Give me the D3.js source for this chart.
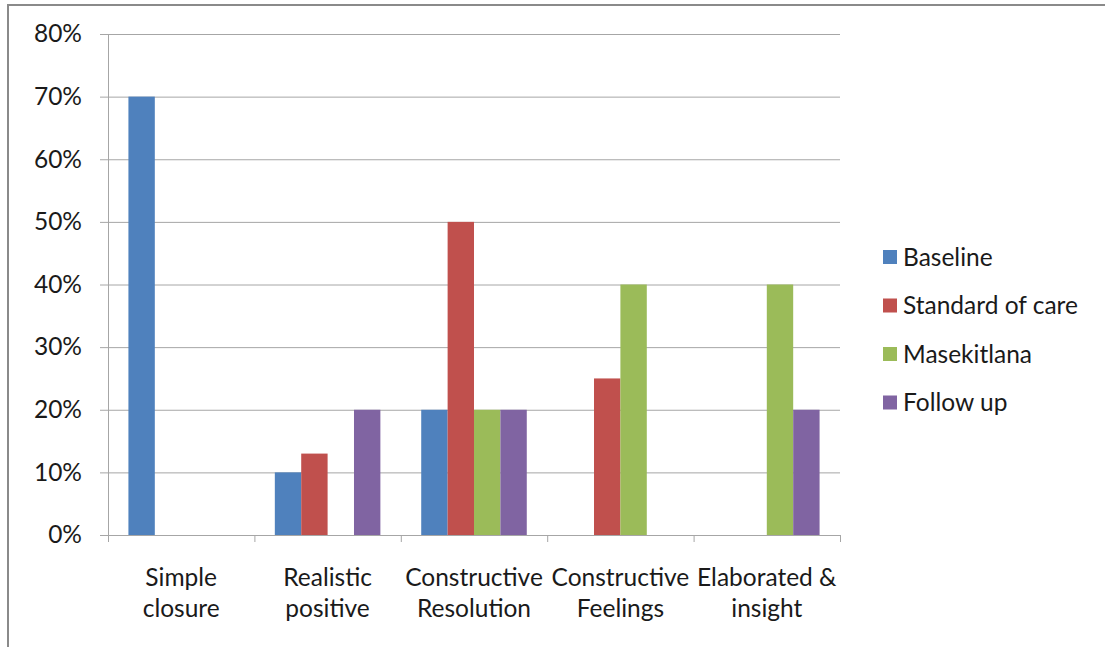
<!DOCTYPE html>
<html><head><meta charset="utf-8">
<script src="https://cdn.jsdelivr.net/npm/d3@7"></script>
<style>
html,body{margin:0;padding:0;background:#fff;}
svg{display:block;}
text{font-family:"Lato","Open Sans",sans-serif;fill:#1a1a1a;}
</style></head>
<body>
<svg id="chart" width="1105" height="647"></svg>
<script>
const categories = [["Simple","closure"],["Realistic","positive"],["Constructive","Resolution"],["Constructive","Feelings"],["Elaborated &","insight"]];
const seriesNames = ["Baseline","Standard of care","Masekitlana","Follow up"];
const baseline = [0.70, 0.10, 0.20, 0, 0];
const standardOfCare = [0, 0.13, 0.50, 0.25, 0];
const masekitlana = [0, 0, 0.20, 0.40, 0.40];
const followUp = [0, 0.20, 0.20, 0, 0.20];
const yTicks = [0,0.1,0.2,0.3,0.4,0.5,0.6,0.7,0.8];
const colors = ["#4F81BD","#C0504D","#9BBB59","#8064A2"];

const seriesValues = [baseline, standardOfCare, masekitlana, followUp];
const svg = d3.select("#chart");
const m = {left:108, right:840, top:34, bottom:535};
const fs = 24.5;

// outer border
svg.append("line").attr("x1",8).attr("x2",1105).attr("y1",5).attr("y2",5).attr("stroke","#8a8a8a").attr("stroke-width",2);
svg.append("line").attr("x1",8).attr("x2",8).attr("y1",4).attr("y2",647).attr("stroke","#8a8a8a").attr("stroke-width",2);

const idx = categories.map((d,i)=>i);
const x0 = d3.scaleBand().domain(idx).range([m.left,m.right]).paddingInner(0.279).paddingOuter(0.1395);
const x1 = d3.scaleBand().domain(d3.range(seriesNames.length)).range([0,x0.bandwidth()]);
const y = d3.scaleLinear().domain([0,0.8]).range([m.bottom,m.top]);

// gridlines + y axis
const yAxis = d3.axisLeft(y).tickValues(yTicks).tickFormat(d3.format(".0%")).tickSize(-(m.right-m.left)).tickPadding(26);
const gy = svg.append("g").attr("transform",`translate(${m.left},0)`).call(yAxis);
gy.select(".domain").attr("stroke","#a6a6a6");
gy.selectAll(".tick line").attr("stroke","#a6a6a6").attr("x1",-8);
gy.selectAll(".tick text").attr("font-size",fs).attr("fill","#1a1a1a").style("font-family",'"Lato","Open Sans",sans-serif');

// bars
seriesValues.forEach((vals,s)=>{
  svg.append("g").selectAll("rect").data(vals).join("rect")
    .attr("x",(d,i)=>x0(i)+x1(s))
    .attr("y",d=>y(d))
    .attr("width",x1.bandwidth())
    .attr("height",d=>m.bottom-y(d))
    .attr("fill",colors[s])
    .attr("display",d=>d>0?null:"none");
});

// x axis with boundary ticks
const xb = d3.scaleLinear().domain([0,categories.length]).range([m.left,m.right]);
const gx = svg.append("g").attr("transform",`translate(0,${m.bottom})`)
  .call(d3.axisBottom(xb).tickValues(d3.range(categories.length+1)).tickSize(7).tickFormat(""));
gx.select(".domain").attr("stroke","#a6a6a6");
gx.selectAll(".tick line").attr("stroke","#a6a6a6");

// category labels
categories.forEach((c,i)=>{
  const cx = x0(i)+x0.bandwidth()/2;
  const t = svg.append("text").attr("text-anchor","middle").attr("font-size",fs).attr("x",cx).attr("y",586);
  t.append("tspan").attr("x",cx).text(c[0]);
  t.append("tspan").attr("x",cx).attr("dy",31).text(c[1]);
});

// legend
const lg = svg.append("g");
seriesNames.forEach((n,i)=>{
  const yy = 257 + i*48.5;
  lg.append("rect").attr("x",883).attr("y",yy-7).attr("width",14).attr("height",14).attr("fill",colors[i]);
  lg.append("text").attr("x",903).attr("y",yy).attr("dy","0.35em").attr("font-size",fs).text(n);
});
</script>
</body></html>
